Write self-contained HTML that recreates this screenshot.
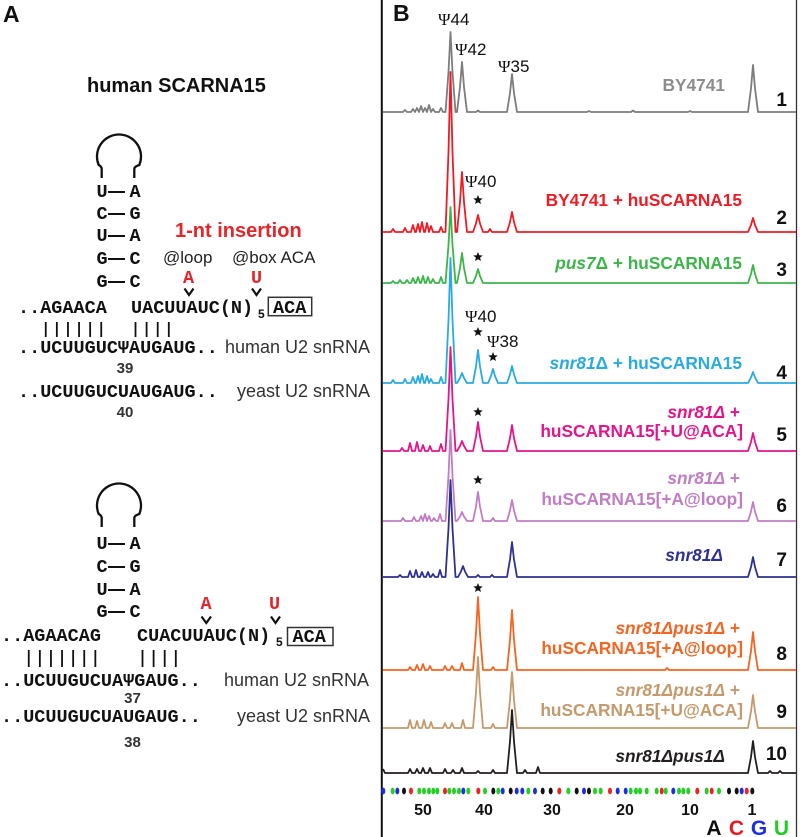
<!DOCTYPE html>
<html><head><meta charset="utf-8"><style>html,body{margin:0;padding:0;background:#fff}svg{display:block}</style></head>
<body>
<svg xmlns="http://www.w3.org/2000/svg" xmlns:xlink="http://www.w3.org/1999/xlink" width="800" height="837" viewBox="0 0 800 837">
<defs>
<polygon id="st" points="0,-5 1.293,-1.78 4.755,-1.545 2.092,0.68 2.939,4.045 0,2.2 -2.939,4.045 -2.092,0.68 -4.755,-1.545 -1.293,-1.78" fill="#111"/>
</defs>
<rect width="800" height="837" fill="#fff"/>

<!-- ============ PANEL A ============ -->
<text x="3" y="22" font-family="'Liberation Sans',sans-serif" font-weight="bold" font-size="23" fill="#111">A</text>
<text x="87" y="92" font-family="'Liberation Sans',sans-serif" font-weight="bold" font-size="20" fill="#111">human SCARNA15</text>

<!-- loop 1 -->
<path d="M101.7,178 V169 Q101.7,166.5 98.7,165 A22,22 0 1 1 139.3,165 Q134.3,166.5 134.3,169 V178" fill="none" stroke="#111" stroke-width="2.3"/>
<g font-family="'Liberation Mono',monospace" font-weight="bold" font-size="18.5" fill="#111" text-anchor="middle">
<text x="102" y="197">U</text><text x="135" y="197">A</text>
<text x="102" y="219">C</text><text x="135" y="219">G</text>
<text x="102" y="241">U</text><text x="135" y="241">A</text>
<text x="102" y="264">G</text><text x="135" y="264">C</text>
<text x="102" y="287">G</text><text x="135" y="287">C</text>
</g>
<g stroke="#111" stroke-width="2">
<line x1="108" y1="192" x2="125" y2="192"/>
<line x1="108" y1="214" x2="125" y2="214"/>
<line x1="108" y1="236" x2="125" y2="236"/>
<line x1="108" y1="259" x2="125" y2="259"/>
<line x1="108" y1="282" x2="125" y2="282"/>
</g>
<text x="175" y="237" font-family="'Liberation Sans',sans-serif" font-weight="bold" font-size="20" fill="#e3262b">1-nt insertion</text>
<text x="163" y="263" font-family="'Liberation Sans',sans-serif" font-size="17" fill="#222">@loop</text>
<text x="232" y="263" font-family="'Liberation Sans',sans-serif" font-size="17" fill="#222">@box ACA</text>
<g font-family="'Liberation Mono',monospace" font-weight="bold" font-size="18.5" fill="#e3262b" text-anchor="middle">
<text x="188.5" y="283">A</text><text x="256.5" y="283">U</text>
</g>
<g fill="none" stroke="#111" stroke-width="2.2">
<polyline points="184.5,288.5 189,295 193.5,288.5"/>
<polyline points="252,288.5 256.5,295 261,288.5"/>
</g>
<g font-family="'Liberation Mono',monospace" font-weight="bold" font-size="18.5" fill="#111">
<text x="18" y="313">..AGAACA</text>
<text x="131" y="313">UACUUAUC(N)</text>
<text x="273" y="313">ACA</text>
<text x="18" y="353">..UCUUGUCΨAUGAUG..</text>
<text x="18" y="397">..UCUUGUCUAUGAUG..</text>
</g>
<text x="258" y="318" font-family="'Liberation Sans',sans-serif" font-weight="bold" font-size="12" fill="#111">5</text>
<rect x="268.3" y="297.3" width="43.4" height="18.4" fill="none" stroke="#333" stroke-width="1.5"/>
<g stroke="#111" stroke-width="1.8">
<line x1="45.75" y1="322" x2="45.75" y2="337"/>
<line x1="56.85" y1="322" x2="56.85" y2="337"/>
<line x1="67.95" y1="322" x2="67.95" y2="337"/>
<line x1="79.05" y1="322" x2="79.05" y2="337"/>
<line x1="90.15" y1="322" x2="90.15" y2="337"/>
<line x1="101.25" y1="322" x2="101.25" y2="337"/>
<line x1="135.5" y1="322" x2="135.5" y2="337"/>
<line x1="146.6" y1="322" x2="146.6" y2="337"/>
<line x1="157.7" y1="322" x2="157.7" y2="337"/>
<line x1="168.8" y1="322" x2="168.8" y2="337"/>
</g>
<g font-family="'Liberation Sans',sans-serif" font-size="18" fill="#333">
<text x="225" y="353">human U2 snRNA</text>
<text x="237" y="397">yeast U2 snRNA</text>
<text x="224" y="686">human U2 snRNA</text>
<text x="237" y="722">yeast U2 snRNA</text>
</g>
<g font-family="'Liberation Sans',sans-serif" font-weight="bold" font-size="15" fill="#333" text-anchor="middle">
<text x="125" y="373">39</text>
<text x="125" y="417">40</text>
<text x="132.5" y="703">37</text>
<text x="132.5" y="747">38</text>
</g>

<!-- loop 2 -->
<path d="M101.7,527 V518 Q101.7,515.5 98.7,514 A22,22 0 1 1 139.3,514 Q134.3,515.5 134.3,518 V527" fill="none" stroke="#111" stroke-width="2.3"/>
<g font-family="'Liberation Mono',monospace" font-weight="bold" font-size="18.5" fill="#111" text-anchor="middle">
<text x="102" y="549">U</text><text x="135" y="549">A</text>
<text x="102" y="572">C</text><text x="135" y="572">G</text>
<text x="102" y="595">U</text><text x="135" y="595">A</text>
<text x="102" y="617">G</text><text x="135" y="617">C</text>
</g>
<g stroke="#111" stroke-width="2">
<line x1="108" y1="544" x2="125" y2="544"/>
<line x1="108" y1="567" x2="125" y2="567"/>
<line x1="108" y1="590" x2="125" y2="590"/>
<line x1="108" y1="612" x2="125" y2="612"/>
</g>
<g font-family="'Liberation Mono',monospace" font-weight="bold" font-size="18.5" fill="#e3262b" text-anchor="middle">
<text x="206" y="609">A</text><text x="274.5" y="609">U</text>
</g>
<g fill="none" stroke="#111" stroke-width="2.2">
<polyline points="201.5,616.5 206.3,623 211,616.5"/>
<polyline points="271,616.5 275.5,623 280,616.5"/>
</g>
<g font-family="'Liberation Mono',monospace" font-weight="bold" font-size="18.5" fill="#111">
<text x="1" y="641">..AGAACAG</text>
<text x="137" y="641">CUACUUAUC(N)</text>
<text x="292.5" y="642">ACA</text>
<text x="1" y="686">..UCUUGUCUAΨGAUG..</text>
<text x="1" y="722">..UCUUGUCUAUGAUG..</text>
</g>
<text x="276" y="646" font-family="'Liberation Sans',sans-serif" font-weight="bold" font-size="12" fill="#111">5</text>
<rect x="287.5" y="627.5" width="45.5" height="18" fill="none" stroke="#333" stroke-width="1.5"/>
<g stroke="#111" stroke-width="1.8">
<line x1="28.75" y1="650" x2="28.75" y2="667"/>
<line x1="39.85" y1="650" x2="39.85" y2="667"/>
<line x1="50.95" y1="650" x2="50.95" y2="667"/>
<line x1="62.05" y1="650" x2="62.05" y2="667"/>
<line x1="73.15" y1="650" x2="73.15" y2="667"/>
<line x1="84.25" y1="650" x2="84.25" y2="667"/>
<line x1="95.35" y1="650" x2="95.35" y2="667"/>
<line x1="142.5" y1="650" x2="142.5" y2="667"/>
<line x1="153.6" y1="650" x2="153.6" y2="667"/>
<line x1="164.7" y1="650" x2="164.7" y2="667"/>
<line x1="175.8" y1="650" x2="175.8" y2="667"/>
</g>

<!-- ============ PANEL B ============ -->
<line x1="381.8" y1="0" x2="381.8" y2="837" stroke="#111" stroke-width="2"/>
<line x1="796.5" y1="0" x2="796.5" y2="837" stroke="#333" stroke-width="1.3"/>
<text x="393" y="21" font-family="'Liberation Sans',sans-serif" font-weight="bold" font-size="23" fill="#111">B</text>

<g fill="none" stroke-width="1.8" stroke-linejoin="round">
<path stroke="#7d7d7d" d="M383,112 H403 l2,-2 l2,2 H411 l2,-3 l2,3 H415 l2,-4 l2,4 H419 l2,-6 l2,6 H423 l2,-4 l2,4 H427 l2,-7 l2,7 H431 l2,-3 l2,3 H439 l2,-4 l2,4 H445.5 l3,-40 l2,-40 l2,40 l3,40 H457 l3,-25 l2,-25 l2,25 l3,25 H476 l2,-1.5 l2,1.5 H507 l3,-19 l2,-19 l2,19 l3,19 H587 l2,-1 l2,1 H631 l2,-1.5 l2,1.5 H688 l2,-1 l2,1 H748 l3,-23.5 l2,-23.5 l2,23.5 l3,23.5 H796"/>
<path stroke="#ed1c24" d="M383,232 H391 l2,-3 l2,3 H403 l2,-4 l2,4 H411 l2,-7 l2,7 H416 l2,-8 l2,8 H420 l2,-10 l2,10 H425 l2,-9 l2,9 H429 l2,-6 l2,6 H439 l2,-5 l2,5 H445.5 l3,-80 l2,-80 l2,80 l3,80 H457 l3,-30 l2,-30 l2,30 l3,30 H473 l3,-8.5 l2,-8.5 l2,8.5 l3,8.5 H488 l2,-3 l2,3 H507 l3,-10 l2,-10 l2,10 l3,10 H748 l3,-7 l2,-7 l2,7 l3,7 H796"/>
<path stroke="#3cb54a" d="M383,283 H391 l2,-2 l2,2 H398 l2,-3 l2,3 H405 l2,-3 l2,3 H411 l2,-5 l2,5 H416 l2,-6 l2,6 H421 l2,-7 l2,7 H426 l2,-6 l2,6 H431 l2,-4 l2,4 H439 l2,-6 l2,6 H445.5 l3,-38 l2,-38 l2,38 l3,38 H457 l3,-15 l2,-15 l2,15 l3,15 H473 l3,-7 l2,-7 l2,7 l3,7 H748 l3,-9 l2,-9 l2,9 l3,9 H796"/>
<path stroke="#29aae1" d="M383,383 H391 l2,-3 l2,3 H403 l2,-4 l2,4 H411 l2,-6 l2,6 H416 l2,-7 l2,7 H420 l2,-9 l2,9 H425 l2,-7 l2,7 H429 l2,-4 l2,4 H439 l2,-6 l2,6 H445.5 l3,-62.5 l2,-62.5 l2,62.5 l3,62.5 H457 l3,-5 l2,-5 l2,5 l3,5 H473 l3,-16.5 l2,-16.5 l2,16.5 l3,16.5 H488 l3,-7 l2,-7 l2,7 l3,7 H507 l3,-8.5 l2,-8.5 l2,8.5 l3,8.5 H748 l3,-5.5 l2,-5.5 l2,5.5 l3,5.5 H796"/>
<path stroke="#e0168a" d="M383,451 H400 l2,-3 l2,3 H408 l2,-8 l2,8 H415 l2,-9 l2,9 H421 l2,-6 l2,6 H428 l2,-5 l2,5 H439 l2,-7 l2,7 H445.5 l3,-52 l2,-52 l2,52 l3,52 H457 l3,-5 l2,-5 l2,5 l3,5 H473 l3,-14.5 l2,-14.5 l2,14.5 l3,14.5 H507 l3,-13 l2,-13 l2,13 l3,13 H748 l3,-9 l2,-9 l2,9 l3,9 H796"/>
<path stroke="#c17dc3" d="M383,521 H401 l2,-3 l2,3 H412 l2,-4 l2,4 H419 l2,-5 l2,5 H423 l2,-7 l2,7 H427 l2,-5 l2,5 H432 l2,-3 l2,3 H438 l2,-7 l2,7 H445.5 l3,-45.5 l2,-45.5 l2,45.5 l3,45.5 H457 l3,-4.5 l2,-4.5 l2,4.5 l3,4.5 H473 l3,-14.5 l2,-14.5 l2,14.5 l3,14.5 H491 l2,-3 l2,3 H507 l3,-10.5 l2,-10.5 l2,10.5 l3,10.5 H748 l3,-9.5 l2,-9.5 l2,9.5 l3,9.5 H796"/>
<path stroke="#2e3192" d="M383,577 H398 l2,-2 l2,2 H408 l2,-6 l2,6 H414 l2,-7 l2,7 H420 l2,-5 l2,5 H426 l2,-5 l2,5 H431 l2,-3 l2,3 H438 l2,-7 l2,7 H445.5 l3,-48.5 l2,-48.5 l2,48.5 l3,48.5 H458 l3,-5.5 l2,-5.5 l2,5.5 l3,5.5 H476 l2,-2 l2,2 H490 l2,-2 l2,2 H507 l3,-17.5 l2,-17.5 l2,17.5 l3,17.5 H748 l3,-10 l2,-10 l2,10 l3,10 H796"/>
<path stroke="#f26522" d="M383,670 H408 l2,-3 l2,3 H415 l2,-5 l2,5 H421 l2,-6 l2,6 H428 l2,-4 l2,4 H443 l2,-4 l2,4 H450 l2,-4 l2,4 H460 l2,-7 l2,7 H473 l3,-36.5 l2,-36.5 l2,36.5 l3,36.5 H491 l2,-3 l2,3 H507 l3,-30 l2,-30 l2,30 l3,30 H665 l2,-2 l2,2 H748 l3,-19 l2,-19 l2,19 l3,19 H796"/>
<path stroke="#c49a6c" d="M383,728 H408 l2,-8 l2,8 H415 l2,-7 l2,7 H422 l2,-8 l2,8 H429 l2,-6 l2,6 H443 l2,-5 l2,5 H450 l2,-5 l2,5 H461 l2,-8 l2,8 H473 l3,-35.5 l2,-35.5 l2,35.5 l3,35.5 H491 l2,-4 l2,4 H507 l3,-28 l2,-28 l2,28 l3,28 H748 l3,-16.5 l2,-16.5 l2,16.5 l3,16.5 H796"/>
<path stroke="#231f20" d="M383,769 L385,773 H408 l2,-4 l2,4 H415 l2,-4 l2,4 H421 l2,-5 l2,5 H428 l2,-5 l2,5 H443 l2,-4 l2,4 H451 l2,-3 l2,3 H460 l2,-5 l2,5 H476 l2,-2 l2,2 H491 l2,-3 l2,3 H507 l3,-31.5 l2,-31.5 l2,31.5 l3,31.5 H523 l2,-3 l2,3 H536 l2,-6 l2,6 H748 l3,-16 l2,-16 l2,16 l3,16 H768 l2,-2 l2,2 H778 l2,-2 l2,2 H796"/>
</g>

<!-- psi labels -->
<g font-family="'Liberation Sans',sans-serif" font-size="17" fill="#111">
<text x="438" y="25"><tspan font-family="'Liberation Serif',serif">Ψ</tspan>44</text>
<text x="455" y="55"><tspan font-family="'Liberation Serif',serif">Ψ</tspan>42</text>
<text x="498" y="72"><tspan font-family="'Liberation Serif',serif">Ψ</tspan>35</text>
<text x="465" y="187"><tspan font-family="'Liberation Serif',serif">Ψ</tspan>40</text>
<text x="465" y="322"><tspan font-family="'Liberation Serif',serif">Ψ</tspan>40</text>
<text x="487" y="347"><tspan font-family="'Liberation Serif',serif">Ψ</tspan>38</text>
</g>

<!-- stars -->
<use xlink:href="#st" href="#st" x="478" y="200"/>
<use xlink:href="#st" href="#st" x="478" y="257"/>
<use xlink:href="#st" href="#st" x="478" y="332"/>
<use xlink:href="#st" href="#st" x="493" y="357"/>
<use xlink:href="#st" href="#st" x="478" y="412"/>
<use xlink:href="#st" href="#st" x="478" y="480"/>
<use xlink:href="#st" href="#st" x="478" y="588"/>

<!-- trace labels -->
<g font-family="'Liberation Sans',sans-serif" font-weight="bold" font-size="17.3" text-anchor="end">
<text x="725" y="91" fill="#8c8c8c">BY4741</text>
<text x="742" y="206" fill="#ed1c24">BY4741 + huSCARNA15</text>
<text x="742" y="269" fill="#3cb54a"><tspan font-style="italic">pus7</tspan>Δ + huSCARNA15</text>
<text x="742" y="369" fill="#29aae1"><tspan font-style="italic">snr81</tspan>Δ + huSCARNA15</text>
<text x="740" y="418" fill="#e0168a"><tspan font-style="italic">snr81Δ</tspan> +</text>
<text x="743" y="437" fill="#e0168a">huSCARNA15[+U@ACA]</text>
<text x="740" y="484" fill="#c17dc3"><tspan font-style="italic">snr81Δ</tspan> +</text>
<text x="743" y="505" fill="#c17dc3">huSCARNA15[+A@loop]</text>
<text x="723" y="561" fill="#2e3192" font-style="italic">snr81Δ</text>
<text x="740" y="634" fill="#f26522"><tspan font-style="italic">snr81Δpus1Δ</tspan> +</text>
<text x="743" y="654" fill="#f26522">huSCARNA15[+A@loop]</text>
<text x="740" y="696" fill="#c49a6c"><tspan font-style="italic">snr81Δpus1Δ</tspan> +</text>
<text x="743" y="716" fill="#c49a6c">huSCARNA15[+U@ACA]</text>
<text x="725" y="762" fill="#231f20" font-style="italic">snr81Δpus1Δ</text>
</g>
<g font-family="'Liberation Sans',sans-serif" font-weight="bold" font-size="19" fill="#111" text-anchor="end">
<text x="787" y="106">1</text>
<text x="787" y="224">2</text>
<text x="787" y="276">3</text>
<text x="787" y="379">4</text>
<text x="787" y="441">5</text>
<text x="787" y="512">6</text>
<text x="787" y="566">7</text>
<text x="787" y="660">8</text>
<text x="787" y="718">9</text>
<text x="787" y="760">10</text>
</g>

<!-- sequence dots -->
<g>
<ellipse cx="383.3" cy="791" rx="2" ry="3.4" fill="#1c2ee0"/>
<ellipse cx="392.7" cy="791" rx="2" ry="3.4" fill="#22d022"/>
<ellipse cx="397.3" cy="791" rx="2" ry="3.4" fill="#1c2ee0"/>
<ellipse cx="404" cy="791" rx="2" ry="3.4" fill="#111"/>
<ellipse cx="411" cy="791" rx="2" ry="3.4" fill="#ee2222"/>
<ellipse cx="419.3" cy="791" rx="2" ry="3.4" fill="#22d022"/>
<ellipse cx="424" cy="791" rx="2" ry="3.4" fill="#22d022"/>
<ellipse cx="429" cy="791" rx="2" ry="3.4" fill="#22d022"/>
<ellipse cx="433.3" cy="791" rx="2" ry="3.4" fill="#22d022"/>
<ellipse cx="437.3" cy="791" rx="2" ry="3.4" fill="#22d022"/>
<ellipse cx="445" cy="791" rx="2" ry="3.4" fill="#ee2222"/>
<ellipse cx="449.3" cy="791" rx="2" ry="3.4" fill="#22d022"/>
<ellipse cx="454" cy="791" rx="2" ry="3.4" fill="#22d022"/>
<ellipse cx="459" cy="791" rx="2" ry="3.4" fill="#22d022"/>
<ellipse cx="463.3" cy="791" rx="2" ry="3.4" fill="#1c2ee0"/>
<ellipse cx="468.3" cy="791" rx="2" ry="3.4" fill="#22d022"/>
<ellipse cx="478.3" cy="791" rx="2" ry="3.4" fill="#ee2222"/>
<ellipse cx="485" cy="791" rx="2" ry="3.4" fill="#22d022"/>
<ellipse cx="493.3" cy="791" rx="2" ry="3.4" fill="#111"/>
<ellipse cx="498.3" cy="791" rx="2" ry="3.4" fill="#22d022"/>
<ellipse cx="502.7" cy="791" rx="2" ry="3.4" fill="#1c2ee0"/>
<ellipse cx="510.7" cy="791" rx="2" ry="3.4" fill="#111"/>
<ellipse cx="516.7" cy="791" rx="2" ry="3.4" fill="#1c2ee0"/>
<ellipse cx="522.3" cy="791" rx="2" ry="3.4" fill="#1c2ee0"/>
<ellipse cx="528.3" cy="791" rx="2" ry="3.4" fill="#22d022"/>
<ellipse cx="535" cy="791" rx="2" ry="3.4" fill="#1c2ee0"/>
<ellipse cx="542.7" cy="791" rx="2" ry="3.4" fill="#111"/>
<ellipse cx="550.7" cy="791" rx="2" ry="3.4" fill="#111"/>
<ellipse cx="559.3" cy="791" rx="2" ry="3.4" fill="#ee2222"/>
<ellipse cx="568.3" cy="791" rx="2" ry="3.4" fill="#22d022"/>
<ellipse cx="576.7" cy="791" rx="2" ry="3.4" fill="#111"/>
<ellipse cx="584" cy="791" rx="2" ry="3.4" fill="#1c2ee0"/>
<ellipse cx="589" cy="791" rx="2" ry="3.4" fill="#111"/>
<ellipse cx="595" cy="791" rx="2" ry="3.4" fill="#22d022"/>
<ellipse cx="600.7" cy="791" rx="2" ry="3.4" fill="#22d022"/>
<ellipse cx="610" cy="791" rx="2" ry="3.4" fill="#ee2222"/>
<ellipse cx="617.7" cy="791" rx="2" ry="3.4" fill="#1c2ee0"/>
<ellipse cx="625.7" cy="791" rx="2" ry="3.4" fill="#1c2ee0"/>
<ellipse cx="630.7" cy="791" rx="2" ry="3.4" fill="#22d022"/>
<ellipse cx="636" cy="791" rx="2" ry="3.4" fill="#22d022"/>
<ellipse cx="640" cy="791" rx="2" ry="3.4" fill="#22d022"/>
<ellipse cx="646.7" cy="791" rx="2" ry="3.4" fill="#22d022"/>
<ellipse cx="656.7" cy="791" rx="2" ry="3.4" fill="#22d022"/>
<ellipse cx="661.7" cy="791" rx="2" ry="3.4" fill="#ee2222"/>
<ellipse cx="665.7" cy="791" rx="2" ry="3.4" fill="#22d022"/>
<ellipse cx="673.3" cy="791" rx="2" ry="3.4" fill="#1c2ee0"/>
<ellipse cx="679" cy="791" rx="2" ry="3.4" fill="#22d022"/>
<ellipse cx="683.3" cy="791" rx="2" ry="3.4" fill="#22d022"/>
<ellipse cx="688.3" cy="791" rx="2" ry="3.4" fill="#22d022"/>
<ellipse cx="697.3" cy="791" rx="2" ry="3.4" fill="#ee2222"/>
<ellipse cx="706.7" cy="791" rx="2" ry="3.4" fill="#22d022"/>
<ellipse cx="711.7" cy="791" rx="2" ry="3.4" fill="#ee2222"/>
<ellipse cx="719" cy="791" rx="2" ry="3.4" fill="#22d022"/>
<ellipse cx="729" cy="791" rx="2" ry="3.4" fill="#111"/>
<ellipse cx="736.7" cy="791" rx="2" ry="3.4" fill="#111"/>
<ellipse cx="741.7" cy="791" rx="2" ry="3.4" fill="#1c2ee0"/>
<ellipse cx="746.7" cy="791" rx="2" ry="3.4" fill="#ee2222"/>
<ellipse cx="752.3" cy="791" rx="2" ry="3.4" fill="#111"/>
</g>

<g font-family="'Liberation Sans',sans-serif" font-weight="bold" font-size="16" fill="#111" text-anchor="middle">
<text x="423" y="815">50</text>
<text x="484" y="815">40</text>
<text x="552" y="815">30</text>
<text x="625" y="815">20</text>
<text x="690" y="815">10</text>
<text x="752" y="815">1</text>
</g>
<g font-family="'Liberation Sans',sans-serif" font-weight="bold" font-size="21" text-anchor="middle">
<text x="714" y="835" fill="#111">A</text>
<text x="736.5" y="835" fill="#e8191f">C</text>
<text x="759" y="835" fill="#1c2ee0">G</text>
<text x="781.5" y="835" fill="#22cc22">U</text>
</g>
</svg>
</body></html>
